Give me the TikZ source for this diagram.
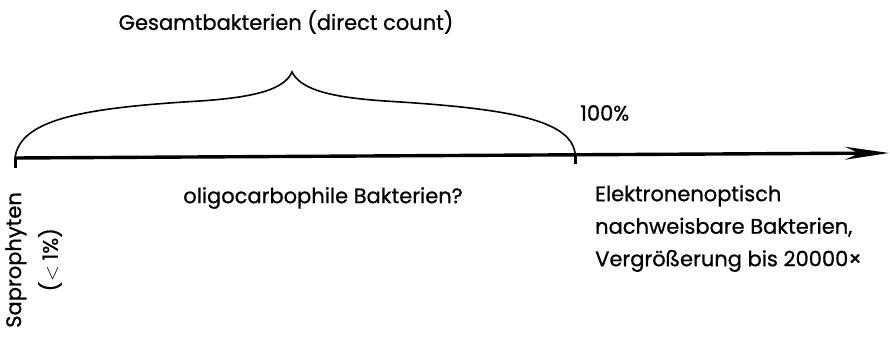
\documentclass[tikz,border=0pt]{standalone}
\usepackage{fontspec}
\setmainfont{Poppins}[RawFeature={embolden=0.8}]
\usetikzlibrary{positioning, arrows.meta}
\tikzset{
  achse/.style={line width=3.4pt, -{Stealth[length=44pt,width=13pt]}},
  klammer/.style={line width=1.6pt},
  strich/.style={line width=3pt},
  schrift/.style={font=\fontsize{21}{32.5}\selectfont, inner sep=0pt}
}
\begin{document}
\begin{tikzpicture}[x=1pt, y=-1pt, every node/.style={schrift}]
        \useasboundingbox (0,0) rectangle (890,342);
        \coordinate (null) at (15,158);
        \coordinate (hundert) at (575,153);
        \coordinate (ende) at (889,153);
        \coordinate (spitze) at (292,72);

        \node (gesamt) at (286,22) {Gesamtbakterien (direct count)};
        \node (prozent) [anchor=west] at (580,113) {100\%};
        \node (oligo) at (323,198) {oligocarbophile Bakterien?};
        \node (elektronen) [anchor=north west, align=left] at (595,185) {Elektronenoptisch\\nachweisbare Bakterien,\\Vergrößerung bis 20000×};
        \node (sapro) [rotate=90, anchor=east] at (16,192) {Saprophyten};
        \node (anteil) [rotate=90, anchor=east] at (50,228) {($<$ 1\%)};

        % Achse mit Pfeil
        \draw [achse] (null) -- (ende);
        \draw [strich] (null) -- ++(0,10);
        \draw [strich] (hundert) -- ++(0,11);

        % Klammer ueber der Achse
        \draw [klammer] (null) .. controls (20,120) and (80,108) .. (200,101)
              .. controls (260,97) and (285,88) .. (spitze)
              .. controls (300,88) and (325,97) .. (385,101)
              .. controls (500,108) and (570,118) .. (hundert);
\end{tikzpicture}
\end{document}
